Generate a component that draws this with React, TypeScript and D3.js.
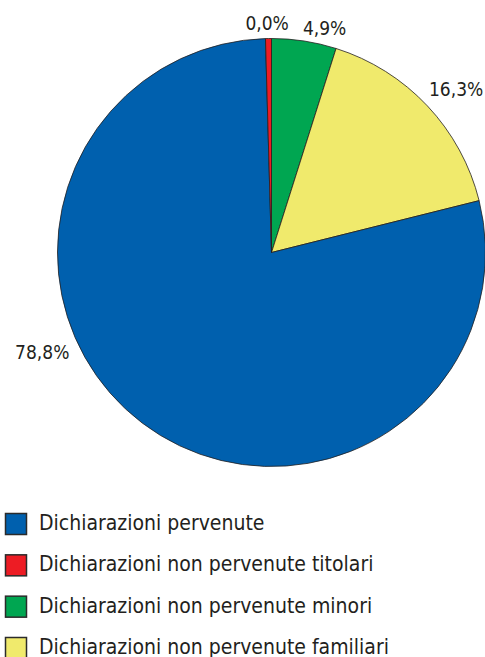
import React from "react";
import * as d3 from "d3";

// ---- data ----
const categories = [
  "Dichiarazioni pervenute",
  "Dichiarazioni non pervenute titolari",
  "Dichiarazioni non pervenute minori",
  "Dichiarazioni non pervenute familiari",
];
const values = [78.8, 0.45, 4.9, 16.3];
const valueLabels = ["78,8%", "0,0%", "4,9%", "16,3%"];
const colors = ["#0060ae", "#ed1c24", "#00a651", "#f0ea6c"];
// clockwise drawing order starting from 12 o'clock
const pieOrder = [2, 3, 0, 1];

// ---- layout ----
const W = 485;
const H = 657;
const cx = 271.5;
const cy = 252.5;
const R = 214;
// label placement (angle in degrees clockwise from top, distance from center)
const labelPlacement: [number, number][] = [
  [246.5, 250],
  [-1.1, 229],
  [13.3, 231],
  [48.5, 246.5],
];
const FONT = "'DejaVu Sans Condensed', 'DejaVu Sans', sans-serif";
const TEXT = "#231f20";

export default function App() {
  const ordered = pieOrder.map((i) => ({ i, value: values[i] }));
  const pie = d3
    .pie<{ i: number; value: number }>()
    .sort(null)
    .value((d) => d.value)
    .startAngle(0)
    .endAngle(2 * Math.PI);
  const arcs = pie(ordered);
  const arcGen = d3
    .arc<d3.PieArcDatum<{ i: number; value: number }>>()
    .innerRadius(0)
    .outerRadius(R);

  const legendY = d3
    .scalePoint<number>()
    .domain(d3.range(categories.length))
    .range([513, 637]);

  return (
    <svg
      width={W}
      height={H}
      style={{ position: "absolute", left: 0, top: 0, background: "#fff" }}
      fontFamily={FONT}
    >
      <g transform={`translate(${cx},${cy})`}>
        {arcs.map((a) => (
          <path
            key={a.data.i}
            d={arcGen(a) || ""}
            fill={colors[a.data.i]}
            stroke="#231f20"
            strokeWidth={0.8}
            strokeLinejoin="round"
          />
        ))}
        {valueLabels.map((lab, i) => {
          const [deg, r] = labelPlacement[i];
          const ang = (deg * Math.PI) / 180;
          return (
            <text
              key={lab}
              x={r * Math.sin(ang)}
              y={-r * Math.cos(ang)}
              dy="0.36em"
              textAnchor="middle"
              fontSize={19}
              fontStretch="condensed"
              fill={TEXT}
            >
              {lab}
            </text>
          );
        })}
      </g>
      <g>
        {categories.map((c, i) => (
          <g key={c} transform={`translate(0,${legendY(i)})`}>
            <rect
              x={5.5}
              y={0.5}
              width={21}
              height={21}
              fill={colors[i]}
              stroke="#2b2b2b"
              strokeWidth={1.5}
            />
            <text
              x={39}
              y={17}
              fontSize={21}
              fontStretch="condensed"
              fill={TEXT}
            >
              {c}
            </text>
          </g>
        ))}
      </g>
    </svg>
  );
}
